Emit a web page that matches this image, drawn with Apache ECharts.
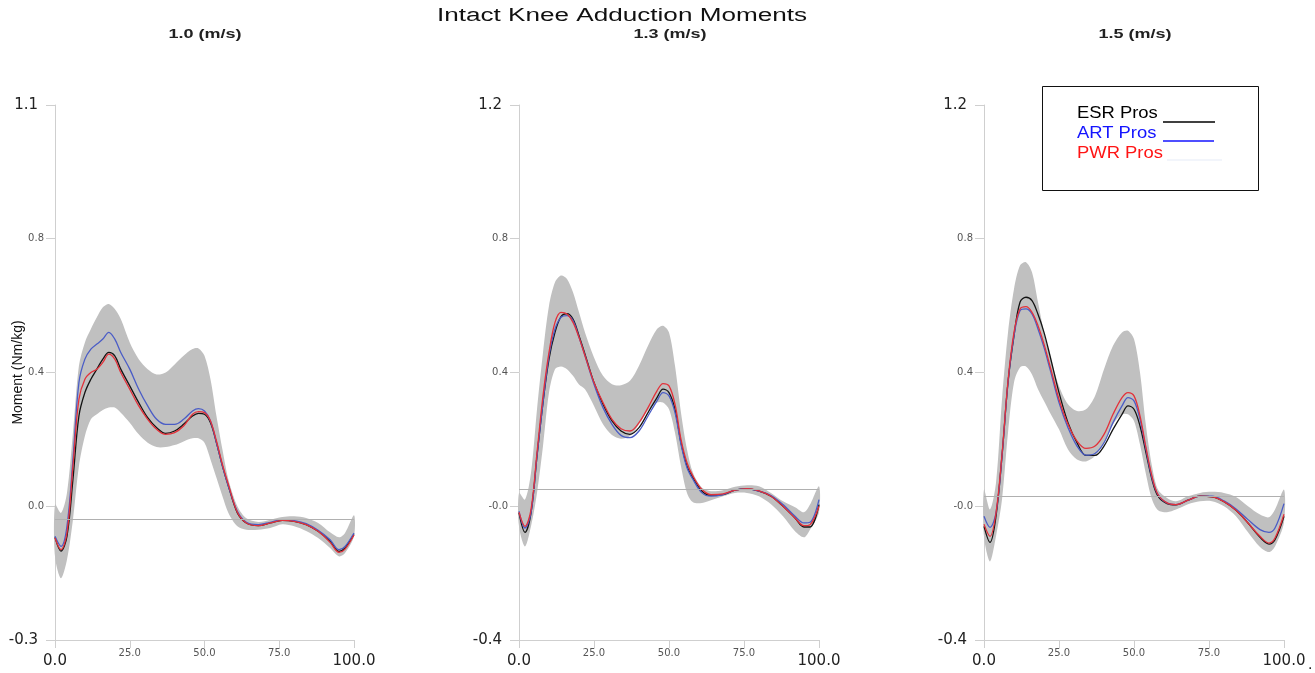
<!DOCTYPE html>
<html><head><meta charset="utf-8">
<script src="https://cdn.jsdelivr.net/npm/echarts@6/dist/echarts.min.js"></script>
<style>html,body{margin:0;padding:0;background:#fff}#chart{width:1315px;height:673px}</style>
</head><body><div id="chart"></div>
<script>
// gait cycle (%) sample points
const xs = [0,2,4,6,8,10,12,14,16,18,20,22,25,28,31,34,37,40,43,46,48,50,52,54,56,58,61,64,68,72,76,80,84,88,92,95,97,100];

const speeds = ['1.0 (m/s)', '1.3 (m/s)', '1.5 (m/s)'];
const seriesNames = ['ESR Pros', 'ART Pros', 'PWR Pros'];

// 1.0 m/s
const esr1 = [-0.093,-0.134,-0.09,0.08,0.27,0.34,0.38,0.41,0.44,0.46,0.45,0.41,0.36,0.31,0.265,0.235,0.218,0.225,0.245,0.27,0.278,0.275,0.25,0.19,0.12,0.06,-0.02,-0.05,-0.058,-0.05,-0.042,-0.045,-0.055,-0.075,-0.105,-0.135,-0.125,-0.084];
const art1 = [-0.09,-0.12,-0.06,0.14,0.37,0.44,0.47,0.485,0.50,0.52,0.50,0.46,0.41,0.35,0.30,0.26,0.245,0.245,0.26,0.285,0.292,0.285,0.255,0.19,0.12,0.06,-0.015,-0.048,-0.055,-0.048,-0.04,-0.043,-0.052,-0.072,-0.10,-0.13,-0.12,-0.08];
const pwr1 = [-0.095,-0.13,-0.08,0.12,0.32,0.38,0.40,0.41,0.43,0.455,0.44,0.40,0.35,0.30,0.26,0.23,0.215,0.22,0.24,0.275,0.283,0.28,0.255,0.195,0.125,0.065,-0.018,-0.05,-0.058,-0.05,-0.042,-0.045,-0.055,-0.075,-0.108,-0.138,-0.128,-0.086];
const upper1 = [0.005,-0.02,0.04,0.22,0.42,0.49,0.53,0.565,0.595,0.605,0.59,0.56,0.49,0.44,0.41,0.394,0.40,0.424,0.45,0.47,0.472,0.45,0.38,0.27,0.17,0.08,0.0,-0.036,-0.047,-0.04,-0.032,-0.03,-0.035,-0.05,-0.078,-0.093,-0.08,-0.027];
const lower1 = [-0.15,-0.215,-0.16,-0.04,0.12,0.21,0.26,0.275,0.288,0.295,0.295,0.28,0.25,0.215,0.19,0.177,0.177,0.183,0.194,0.203,0.203,0.19,0.14,0.085,0.03,-0.02,-0.06,-0.07,-0.07,-0.065,-0.054,-0.06,-0.074,-0.095,-0.125,-0.15,-0.14,-0.09];

// 1.3 m/s
const esr2 = [-0.02,-0.078,-0.02,0.15,0.31,0.44,0.52,0.567,0.576,0.56,0.51,0.455,0.37,0.305,0.255,0.225,0.215,0.235,0.28,0.325,0.35,0.34,0.29,0.19,0.12,0.085,0.045,0.033,0.035,0.048,0.052,0.045,0.03,0.0,-0.035,-0.062,-0.062,0.005];
const art2 = [-0.015,-0.065,-0.02,0.15,0.31,0.45,0.53,0.565,0.57,0.555,0.505,0.45,0.365,0.295,0.245,0.212,0.205,0.225,0.27,0.315,0.34,0.33,0.28,0.185,0.115,0.08,0.04,0.03,0.035,0.048,0.052,0.045,0.032,0.005,-0.03,-0.05,-0.048,0.02];
const pwr2 = [-0.018,-0.06,-0.01,0.16,0.33,0.46,0.55,0.58,0.575,0.55,0.505,0.45,0.37,0.31,0.26,0.232,0.225,0.25,0.295,0.345,0.367,0.36,0.305,0.2,0.13,0.09,0.05,0.035,0.037,0.048,0.053,0.046,0.03,0.0,-0.035,-0.058,-0.055,0.0];
const upper2 = [0.04,0.02,0.1,0.29,0.46,0.6,0.67,0.69,0.68,0.64,0.58,0.52,0.445,0.39,0.365,0.362,0.375,0.42,0.48,0.53,0.54,0.52,0.42,0.28,0.17,0.1,0.055,0.045,0.048,0.058,0.063,0.06,0.04,0.015,-0.003,-0.018,0.005,0.06];
const lower2 = [-0.06,-0.12,-0.06,0.04,0.18,0.34,0.41,0.418,0.41,0.39,0.364,0.35,0.30,0.245,0.213,0.202,0.21,0.245,0.287,0.31,0.31,0.29,0.22,0.12,0.04,0.012,0.01,0.018,0.03,0.04,0.04,0.03,0.006,-0.03,-0.075,-0.093,-0.07,-0.018];

// 1.5 m/s
const esr3 = [-0.06,-0.108,-0.03,0.15,0.37,0.51,0.61,0.625,0.615,0.574,0.52,0.45,0.34,0.25,0.19,0.152,0.152,0.18,0.23,0.275,0.30,0.29,0.24,0.16,0.08,0.03,0.008,0.004,0.018,0.03,0.028,0.014,-0.012,-0.05,-0.093,-0.113,-0.10,-0.03];
const art3 = [-0.03,-0.063,-0.02,0.15,0.37,0.51,0.585,0.59,0.575,0.53,0.475,0.41,0.31,0.235,0.18,0.153,0.158,0.19,0.25,0.30,0.325,0.315,0.26,0.17,0.085,0.035,0.01,0.005,0.018,0.03,0.03,0.016,-0.008,-0.04,-0.07,-0.078,-0.065,0.008];
const pwr3 = [-0.054,-0.09,-0.02,0.155,0.375,0.52,0.59,0.597,0.58,0.54,0.485,0.42,0.32,0.245,0.195,0.173,0.18,0.215,0.275,0.325,0.34,0.33,0.27,0.175,0.09,0.035,0.01,0.005,0.018,0.03,0.028,0.014,-0.012,-0.05,-0.09,-0.11,-0.095,-0.024];
const upper3 = [0.05,-0.01,0.07,0.32,0.52,0.65,0.72,0.73,0.70,0.61,0.52,0.45,0.36,0.305,0.285,0.29,0.33,0.41,0.48,0.52,0.525,0.50,0.40,0.24,0.12,0.05,0.025,0.015,0.03,0.04,0.043,0.04,0.028,0.0,-0.025,-0.033,-0.01,0.05];
const lower3 = [-0.09,-0.165,-0.09,0.02,0.22,0.37,0.415,0.418,0.394,0.35,0.315,0.28,0.23,0.17,0.14,0.134,0.15,0.19,0.245,0.275,0.275,0.255,0.185,0.095,0.02,-0.012,-0.018,-0.01,0.006,0.015,0.015,0.0,-0.03,-0.078,-0.122,-0.137,-0.12,-0.048];

// horizontal reference line in each panel
const refLine = [-0.045, 0.048, 0.026];

// tick labels (bottom to top) as printed on each panel
const yTickLabels1 = ['-0.3','0.0','0.4','0.8','1.1'];
const yTickLabels2 = ['-0.4','-0.0','0.4','0.8','1.2'];
const yTickLabels3 = ['-0.4','-0.0','0.4','0.8','1.2'];
const xTickLabels = ['0.0','25.0','50.0','75.0','100.0'];

const panels = [
  {esr: esr1, art: art1, pwr: pwr1, upper: upper1, lower: lower1, yl: yTickLabels1},
  {esr: esr2, art: art2, pwr: pwr2, upper: upper2, lower: lower2, yl: yTickLabels2},
  {esr: esr3, art: art3, pwr: pwr3, upper: upper3, lower: lower3, yl: yTickLabels3}
];

const gridLeft = [55, 519, 984];
const gridWidth = [299, 300, 300];
const Y_MIN = -0.4, Y_MAX = 1.2, Y_INT = 0.4;

const lineColors = ['#141414', '#4a5cc6', '#e3313a'];
const bandColor = '#c0c0c0';
const axisGray = '#cfcfcf';

const grids = [], xAxes = [], yAxes = [], series = [];
panels.forEach((p, i) => {
  grids.push({left: gridLeft[i], width: gridWidth[i], top: 105, height: 535,
              containLabel: false, outerBoundsMode: 'none'});
  xAxes.push({
    type: 'value', gridIndex: i, min: 0, max: 100, interval: 25,
    splitLine: {show: false},
    axisLine: {show: true, onZero: false, lineStyle: {color: axisGray, width: 1}},
    axisTick: {show: true, length: 8, lineStyle: {color: axisGray}},
    axisLabel: {
      margin: 8,
      formatter: v => {
        const k = Math.round(v / 25);
        const t = xTickLabels[k];
        return (k === 0 || k === xTickLabels.length - 1) ? '{b|' + t + '}' : '{s|' + t + '}';
      },
      rich: {
        b: {fontSize: 15, fontFamily: 'DejaVu Sans', color: '#222', padding: [6, 0, 0, 0]},
        s: {fontSize: 10, fontFamily: 'DejaVu Sans', color: '#555'}
      }
    }
  });
  const yl = p.yl;
  yAxes.push({
    type: 'value', gridIndex: i, min: Y_MIN, max: Y_MAX, interval: Y_INT,
    name: i === 0 ? 'Moment (Nm/kg)' : '',
    nameLocation: 'middle', nameGap: 30, nameMoveOverlap: false,
    nameTextStyle: {fontSize: 14, fontFamily: 'Liberation Sans', color: '#111'},
    splitLine: {show: false},
    axisLine: {show: true, onZero: false, lineStyle: {color: axisGray, width: 1}},
    axisTick: {show: true, length: 9, lineStyle: {color: axisGray}},
    axisLabel: {
      margin: 11,
      formatter: v => {
        const k = Math.round((v - Y_MIN) / Y_INT);
        const t = yl[k];
        return (k === 0 || k === yl.length - 1) ? '{b|' + t + '}' : '{s|' + t + '}';
      },
      rich: {
        b: {fontSize: 15, fontFamily: 'DejaVu Sans', color: '#222', padding: [0, 6, 0, 0]},
        s: {fontSize: 10, fontFamily: 'DejaVu Sans', color: '#555'}
      }
    }
  });
  const pts = arr => xs.map((x, k) => [x, arr[k]]);
  // shaded band between lower and upper edges
  series.push({
    type: 'custom', xAxisIndex: i, yAxisIndex: i, silent: true, clip: false, z: 1,
    data: [[0, 0]],
    renderItem: (params, api) => {
      const top = xs.map((x, k) => api.coord([x, p.upper[k]]));
      const bot = xs.map((x, k) => api.coord([x, p.lower[k]])).reverse();
      return {type: 'polygon', shape: {points: top.concat(bot), smooth: 0.3},
              style: {fill: bandColor, stroke: null}};
    }
  });
  [p.esr, p.art, p.pwr].forEach((arr, j) => {
    const s = {
      type: 'line', name: seriesNames[j], xAxisIndex: i, yAxisIndex: i,
      data: pts(arr), smooth: 0.35, showSymbol: false,
      lineStyle: {color: lineColors[j], width: 1.3}, z: 3
    };
    if (j === 0) {
      s.markLine = {
        silent: true, symbol: ['none', 'none'], label: {show: false},
        lineStyle: {color: '#b0b0b0', width: 1, type: 'solid'},
        data: [{yAxis: refLine[i]}]
      };
    }
    series.push(s);
  });
});

const subX = [205, 670, 1135];
const graphic = [
  {type: 'text', x: 622, y: 16, scaleX: 1.45,
   style: {text: 'Intact Knee Adduction Moments', font: '18px "Liberation Sans"', fill: '#111', align: 'center', verticalAlign: 'middle'}},
  ...speeds.map((t, i) => ({type: 'text', x: subX[i], y: 35, scaleX: 1.5,
   style: {text: t, font: 'bold 12px "Liberation Sans"', fill: '#222', align: 'center', verticalAlign: 'middle'}})),
  {type: 'rect', shape: {x: 1042.5, y: 86.5, width: 216, height: 104},
   style: {fill: '#fff', stroke: '#111', lineWidth: 1}, z: 10},
  {type: 'text', x: 1077, y: 114, scaleX: 1.15, z: 11,
   style: {text: seriesNames[0], font: '16px "Liberation Sans"', fill: '#000', align: 'left', verticalAlign: 'middle'}},
  {type: 'text', x: 1077, y: 134, scaleX: 1.15, z: 11,
   style: {text: seriesNames[1], font: '16px "Liberation Sans"', fill: '#1414ff', align: 'left', verticalAlign: 'middle'}},
  {type: 'text', x: 1077, y: 154, scaleX: 1.15, z: 11,
   style: {text: seriesNames[2], font: '16px "Liberation Sans"', fill: '#ff1414', align: 'left', verticalAlign: 'middle'}},
  {type: 'line', shape: {x1: 1163, y1: 122, x2: 1215, y2: 122}, style: {stroke: '#000', lineWidth: 1.5}, z: 11},
  {type: 'line', shape: {x1: 1163, y1: 141, x2: 1214, y2: 141}, style: {stroke: '#1414ff', lineWidth: 1.5}, z: 11},
  {type: 'line', shape: {x1: 1167, y1: 160, x2: 1222, y2: 160}, style: {stroke: '#eef2fa', lineWidth: 1.5}, z: 11},
  {type: 'text', x: 1308, y: 657, style: {text: '.', font: '16px "Liberation Sans"', fill: '#222'}}
];

const chart = echarts.init(document.getElementById('chart'), null, {renderer: 'canvas'});
chart.setOption({
  animation: false,
  backgroundColor: '#fff',
  grid: grids, xAxis: xAxes, yAxis: yAxes, series: series,
  graphic: graphic
});
</script>
</body></html>
